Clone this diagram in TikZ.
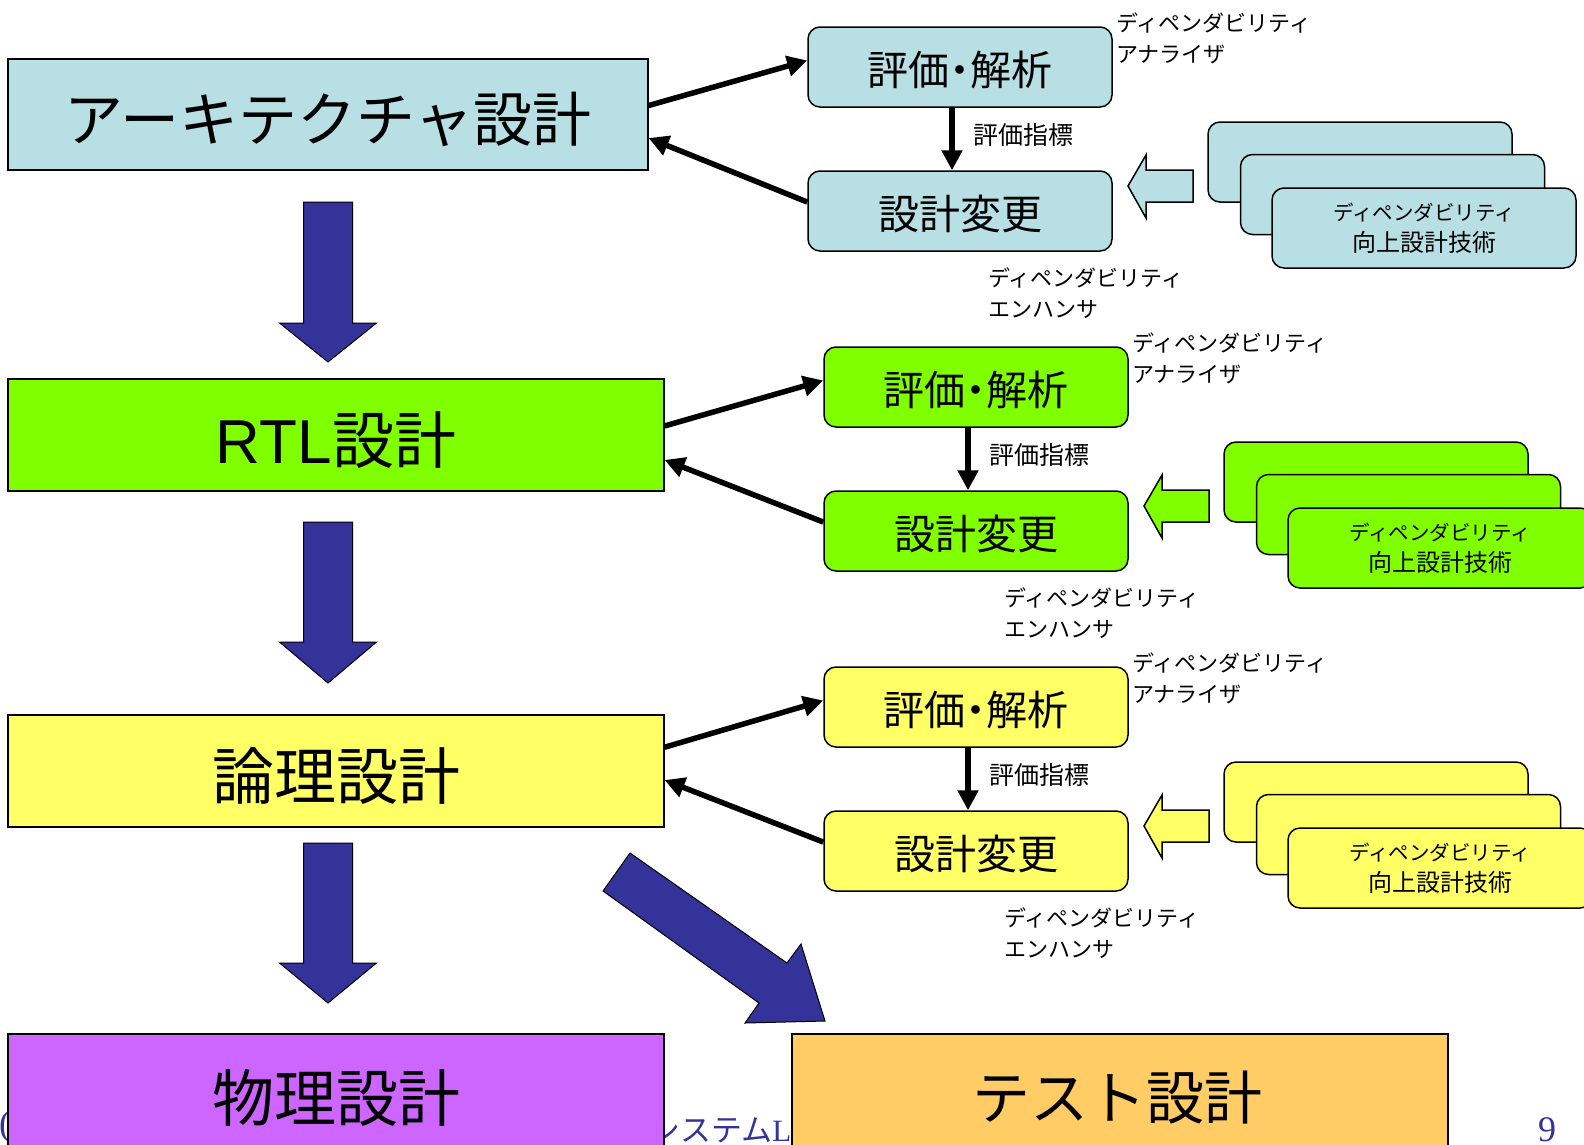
\documentclass[tikz,border=0pt]{standalone}
\usepackage{fontspec}
\newfontfamily\jp{Noto Sans CJK JP}
\newfontfamily\jpp[RawFeature=+palt]{Noto Sans CJK JP}
\newfontfamily\ser{Liberation Serif}
\newfontfamily\sansL{Liberation Sans}
\usetikzlibrary{arrows.meta,calc}
\definecolor{cblue}{HTML}{B8DFE3}
\definecolor{cgreen}{HTML}{80FF00}
\definecolor{cyellow}{HTML}{FFFF66}
\definecolor{cpurple}{HTML}{CC66FF}
\definecolor{corange}{HTML}{FFCC66}
\definecolor{navy}{HTML}{333399}
\begin{document}
\begin{tikzpicture}[x=1pt,y=-1pt,
  bigbox/.style={draw=black,line width=1.2pt,inner sep=0pt,minimum width=656pt,minimum height=112pt},
  bigtext/.style={inner sep=0pt,font=\jp\fontsize{62}{64}\selectfont},
  rbox/.style={draw=black,line width=1.5pt,rounded corners=12pt,inner sep=0pt,minimum width=304pt,minimum height=80pt},
  rtext/.style={inner sep=0pt,font=\jpp\fontsize{41}{44}\selectfont},
  stk/.style={draw=black,line width=1.5pt,rounded corners=12pt,inner sep=0pt,minimum width=304pt,minimum height=80pt,font=\jp\fontsize{22}{31}\selectfont},
  note/.style={font=\jp\fontsize{22}{31}\selectfont,align=left,anchor=west,inner sep=0pt},
  metric/.style={font=\jp\fontsize{25}{28}\selectfont,anchor=west,inner sep=0pt},
  blk/.style={line width=5.5pt,-{Triangle[length=20pt,width=20pt]}},
  navyarrow/.style={fill=navy,draw=black,line width=1pt},
  hollow/.style={draw=black,line width=1.5pt},
  foot/.style={text=navy,anchor=base west,inner sep=0pt},
]
\useasboundingbox (0,0) rectangle (1584,1144);
\clip (0,0) rectangle (1584,1144);
\fill[white] (0,0) rectangle (1584,1144);

% footer (mostly hidden)
\node[foot,font=\ser\fontsize{36}{36}\selectfont] (fc) at (-1,1135) {(C)};
\node[foot,font=\jp\fontsize{31}{31}\selectfont] (fs) at (649,1141) {システム{\ser L}SI};
\node[foot,font=\ser\fontsize{36}{36}\selectfont] (pg) at (1538,1141) {9};

% left boxes
\node[bigbox,fill=cblue,minimum width=640pt,minimum height=111pt] (arch) at (328,114.5) {};
\node[bigtext,font=\jp\fontsize{59}{60}\selectfont] (archt) at ($(arch.center)+(0,5)$) {アーキテクチャ設計};
\node[bigbox,fill=cgreen] (rtl) at (336,435) {};
\node[bigtext] (rtlt) at ($(rtl.center)+(0,5)$) {{\sansL RTL}設計};
\node[bigbox,fill=cyellow] (logic) at (336,771) {};
\node[bigtext] (logict) at ($(logic.center)+(0,5)$) {論理設計};
\node[bigbox,fill=cpurple,minimum height=124pt] (phys) at (336,1096) {};
\node[bigtext] (physt) at ($(phys.center)+(0,2)$) {物理設計};
\node[bigbox,fill=corange,minimum height=124pt] (test) at (1120,1096) {};
\node[bigtext,font=\jp\fontsize{58}{60}\selectfont] (testt) at ($(test.center)+(-3,2)$) {テスト設計};

% blue block arrows
\foreach \t/\b/\tip in {202/323/362, 522/642/683, 843/963/1003}{
  \draw[navyarrow] (303.5,\t) -- (352.5,\t) -- (352.5,\b) -- (376.5,\b) -- (328,\tip) -- (279.5,\b) -- (303.5,\b) -- cycle;
}
\draw[navyarrow] (630,853) -- (787,963) -- (801,944) -- (825,1021) -- (745,1023) -- (759,1003) -- (603,891) -- cycle;

% groups
\foreach \g/\col/\dx/\dy/\src/\fo/\fb in {1/cblue/0/0/arch/0.42/0.71, 2/cgreen/16/320/rtl/0.42/0.72, 3/cyellow/16/640/logic/0.29/0.58}{
  \node[rbox,fill=\col] (e\g) at (960+\dx,67+\dy) {};
  \node[rtext] (et\g) at ($(e\g.center)+(0,3)$) {評価・解析};
  \node[rbox,fill=\col] (c\g) at (960+\dx,211+\dy) {};
  \node[rtext] (ct\g) at ($(c\g.center)+(0,3)$) {設計変更};
  \coordinate (vx\g) at (952+\dx,0);
  \draw[blk] (e\g.south -| vx\g) -- (c\g.north -| vx\g);
  \node[metric] (m\g) at (973+\dx,135+\dy) {評価指標};
  \node[note] (an\g) at (1116+\dx,38+\dy) {ディペンダビリティ\\アナライザ};
  \node[note] (en\g) at (988+\dx,293.5+\dy) {ディペンダビリティ\\エンハンサ};
  \node[stk,fill=\col] (sa\g) at (1360+\dx,162+\dy) {};
  \node[stk,fill=\col] (sb\g) at (1392.5+\dx,194.5+\dy) {};
  \node[stk,fill=\col,align=center] (sc\g) at (1424+\dx,228+\dy) {{\fontsize{20.5}{30}\selectfont ディペンダビリティ}\\{\fontsize{24}{30}\selectfont 向上設計技術}};
  \draw[hollow,fill=\col] (1128+\dx,186+\dy) -- (1146+\dx,155+\dy) -- (1146+\dx,170+\dy) -- (1193+\dx,170+\dy) -- (1193+\dx,202+\dy) -- (1146+\dx,202+\dy) -- (1146+\dx,218+\dy) -- cycle;
  \draw[blk] ($(\src.north east)!\fo!(\src.south east)$) -- ($(e\g.north west)!0.42!(e\g.south west)$);
  \draw[blk] ($(c\g.north west)!0.39!(c\g.south west)$) -- ($(\src.north east)!\fb!(\src.south east)$);
}
\end{tikzpicture}
\end{document}
